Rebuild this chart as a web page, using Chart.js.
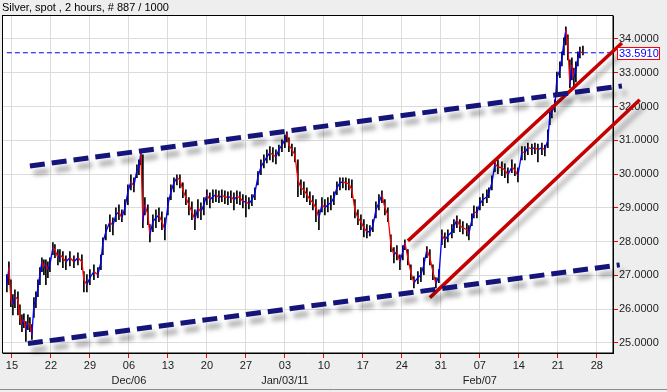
<!DOCTYPE html>
<html>
<head>
<meta charset="utf-8">
<script src="https://cdn.jsdelivr.net/npm/chart.js@4/dist/chart.umd.min.js"></script>
<style>
  body { margin: 0; background: #eeeeee; }
  canvas { display: block; }
</style>
</head>
<body>
<canvas id="silverChart" width="667" height="392"></canvas>
<script>
// days counted from Mon 15 Nov 2010
const days = [
    -0.90, -0.54, -0.18, 0.18, 0.54, 1.08, 1.44, 1.80, 2.15, 2.51,
    2.87, 3.23, 3.59, 3.95, 4.31, 4.67, 5.03, 5.39, 5.74, 6.10,
    6.46, 6.82, 7.36, 7.72, 8.26, 8.62, 9.15, 9.69, 10.41, 11.13,
    11.85, 12.56, 12.92, 13.46, 14.00, 14.72, 15.44, 15.98, 16.33, 16.87,
    17.59, 18.13, 18.67, 19.21, 19.74, 20.28, 20.82, 21.36, 21.90, 22.44,
    22.80, 23.15, 23.51, 23.87, 24.41, 24.77, 25.31, 25.85, 26.39, 26.92,
    27.46, 28.00, 28.54, 29.08, 29.62, 30.16, 30.69, 31.23, 31.77, 32.31,
    32.85, 33.39, 33.93, 34.46, 35.00, 35.54, 36.08, 36.62, 37.16, 37.69,
    38.23, 38.77, 39.31, 39.85, 40.39, 40.93, 41.46, 42.00, 42.54, 43.08,
    43.62, 44.16, 44.70, 45.23, 45.77, 46.31, 46.85, 47.39, 47.93, 48.47,
    49.00, 49.36, 49.72, 50.26, 50.80, 51.34, 51.88, 52.41, 52.95, 53.49,
    54.03, 54.57, 55.11, 55.65, 56.18, 56.72, 57.26, 57.80, 58.34, 58.88,
    59.41, 59.95, 60.49, 61.03, 61.57, 62.11, 62.65, 63.18, 63.72, 64.26,
    64.80, 65.34, 65.88, 66.42, 66.95, 67.49, 68.03, 68.57, 69.11, 69.65,
    70.18, 70.54, 71.08, 71.62, 72.16, 72.88, 73.42, 73.95, 74.49, 75.03,
    75.57, 76.11, 76.65, 77.19, 77.72, 78.26, 78.98, 79.34, 79.88, 80.42,
    80.95, 81.67, 82.03, 82.57, 82.93, 83.47, 84.01, 84.54, 85.26, 85.62,
    86.16, 86.70, 87.24, 87.96, 88.49, 89.03, 89.75, 90.29, 90.83, 91.55,
    92.08, 92.62, 93.34, 93.88, 94.42, 95.14, 95.67, 96.21, 96.57, 96.93,
    97.47, 97.83, 98.37, 98.73, 99.09, 99.44, 99.80, 100.16, 100.52, 100.88,
    101.24, 101.60, 101.96, 102.50
];
const closes = [
    26.72, 27.23, 26.28, 26.13, 26.37, 26.28, 25.75, 25.54, 25.69, 25.39,
    25.60, 25.54, 25.24, 26.13, 26.28, 26.63, 27.02, 27.40, 27.23, 27.31,
    27.17, 27.31, 27.82, 27.76, 27.52, 27.61, 27.52, 27.40, 27.52, 27.40,
    27.52, 27.40, 26.87, 26.72, 26.93, 27.11, 27.02, 27.40, 27.97, 28.29,
    28.59, 28.47, 28.79, 28.88, 28.70, 29.00, 29.47, 29.77, 29.65, 30.12,
    30.18, 30.66, 28.59, 29.09, 28.79, 28.20, 28.59, 28.70, 28.79, 28.59,
    28.35, 29.09, 29.47, 29.74, 29.89, 29.83, 29.53, 29.30, 29.09, 28.88,
    28.65, 29.00, 28.88, 29.09, 29.39, 29.24, 29.33, 29.39, 29.30, 29.36,
    29.33, 29.30, 29.33, 29.24, 29.33, 29.30, 29.18, 29.18, 29.12, 29.24,
    29.44, 29.92, 30.21, 30.36, 30.51, 30.63, 30.57, 30.51, 30.72, 30.86,
    31.01, 31.19, 30.86, 30.72, 30.57, 29.83, 29.59, 29.53, 29.39, 29.24,
    29.15, 29.00, 28.70, 29.09, 29.00, 29.09, 29.15, 29.30, 29.59, 29.74,
    29.77, 29.74, 29.71, 29.53, 28.94, 28.70, 28.59, 28.41, 28.29, 28.29,
    28.47, 28.94, 29.15, 29.39, 29.00, 28.79, 27.91, 27.61, 27.70, 27.40,
    27.70, 27.97, 27.52, 27.08, 26.78, 26.93, 27.02, 27.31, 27.76, 27.52,
    27.11, 26.75, 26.99, 28.20, 28.05, 28.17, 28.29, 28.44, 28.65, 28.47,
    28.41, 28.35, 28.23, 28.65, 28.88, 28.85, 29.12, 29.24, 29.33, 29.44,
    29.74, 30.30, 30.21, 30.18, 30.12, 29.98, 30.21, 30.12, 29.95, 30.66,
    30.63, 30.78, 30.75, 30.78, 30.72, 30.78, 30.72, 31.01, 31.75, 31.84,
    32.02, 32.85, 33.08, 33.44, 33.91, 34.27, 33.82, 32.64, 33.23, 32.85,
    33.08, 33.44, 33.62, 33.591
];
const highs = [
    27.02, 27.40, 26.87, 26.43, 26.57, 26.51, 26.13, 25.83, 25.86, 25.63,
    25.83, 25.75, 25.54, 26.34, 26.51, 26.87, 27.23, 27.52, 27.46, 27.46,
    27.40, 27.52, 27.97, 27.91, 27.76, 27.76, 27.70, 27.58, 27.70, 27.58,
    27.67, 27.61, 27.11, 27.02, 27.17, 27.31, 27.23, 27.61, 28.11, 28.50,
    28.79, 28.70, 29.00, 29.09, 28.94, 29.24, 29.68, 29.98, 29.89, 30.27,
    30.42, 30.72, 30.57, 29.30, 29.09, 28.50, 28.79, 28.94, 29.00, 28.88,
    28.70, 29.30, 29.68, 29.89, 29.98, 29.98, 29.74, 29.53, 29.30, 29.18,
    28.94, 29.24, 29.15, 29.30, 29.53, 29.44, 29.53, 29.53, 29.50, 29.53,
    29.50, 29.47, 29.50, 29.44, 29.50, 29.47, 29.39, 29.36, 29.30, 29.39,
    29.59, 30.07, 30.42, 30.57, 30.72, 30.81, 30.78, 30.72, 30.86, 31.01,
    31.16, 31.25, 31.07, 30.89, 30.78, 30.42, 29.83, 29.77, 29.59, 29.47,
    29.36, 29.24, 28.94, 29.30, 29.24, 29.30, 29.36, 29.47, 29.77, 29.89,
    29.89, 29.89, 29.86, 29.83, 29.24, 28.94, 28.79, 28.65, 28.50, 28.47,
    28.65, 29.18, 29.39, 29.50, 29.24, 29.00, 28.20, 27.82, 27.88, 27.61,
    27.88, 28.05, 27.76, 27.31, 26.96, 27.11, 27.23, 27.52, 27.85, 27.76,
    27.31, 26.93, 27.17, 28.35, 28.26, 28.35, 28.50, 28.65, 28.76, 28.65,
    28.59, 28.53, 28.47, 28.82, 29.06, 29.03, 29.30, 29.41, 29.53, 29.59,
    29.95, 30.42, 30.42, 30.36, 30.30, 30.18, 30.42, 30.30, 30.18, 30.81,
    30.81, 30.92, 30.89, 30.92, 30.89, 30.92, 30.86, 31.31, 31.90, 32.02,
    32.20, 33.02, 33.32, 33.62, 34.03, 34.36, 34.12, 33.38, 33.44, 33.14,
    33.32, 33.62, 33.76, 33.79
];
const lows = [
    26.51, 26.72, 26.07, 25.83, 26.04, 25.83, 25.54, 25.33, 25.45, 25.04,
    25.39, 25.33, 25.10, 25.75, 26.04, 26.37, 26.72, 27.11, 27.02, 26.72,
    26.93, 27.11, 27.61, 27.52, 27.31, 27.40, 27.23, 27.17, 27.28, 27.23,
    27.31, 27.17, 26.51, 26.51, 26.72, 26.87, 26.93, 27.17, 27.61, 28.05,
    28.29, 28.20, 28.59, 28.65, 28.59, 28.79, 29.09, 29.53, 29.47, 29.89,
    29.98, 30.27, 28.41, 28.79, 28.50, 27.99, 28.29, 28.41, 28.59, 28.35,
    28.05, 28.79, 29.24, 29.47, 29.68, 29.59, 29.30, 29.09, 28.79, 28.65,
    28.35, 28.70, 28.65, 28.79, 29.09, 29.00, 29.15, 29.18, 29.15, 29.18,
    29.12, 29.09, 29.15, 28.94, 29.12, 29.09, 29.00, 28.73, 28.97, 29.06,
    29.24, 29.68, 29.98, 30.18, 30.33, 30.42, 30.36, 30.30, 30.54, 30.66,
    30.78, 30.95, 30.66, 30.54, 30.36, 29.33, 29.39, 29.30, 29.18, 29.09,
    28.94, 28.59, 28.35, 28.88, 28.79, 28.88, 28.94, 29.09, 29.39, 29.53,
    29.59, 29.53, 29.53, 29.30, 28.70, 28.50, 28.35, 28.14, 28.11, 28.17,
    28.29, 28.70, 28.94, 29.15, 28.79, 28.59, 27.70, 27.37, 27.46, 27.17,
    27.46, 27.76, 27.31, 26.87, 26.63, 26.75, 26.81, 27.02, 27.52, 27.31,
    26.87, 26.63, 26.78, 27.91, 27.82, 27.99, 28.11, 28.26, 28.41, 28.29,
    28.23, 28.17, 28.05, 28.47, 28.70, 28.70, 28.94, 29.06, 29.15, 29.30,
    29.53, 30.07, 30.01, 29.95, 29.89, 29.74, 30.04, 29.95, 29.77, 30.42,
    30.42, 30.57, 30.57, 30.60, 30.36, 30.57, 30.54, 30.78, 31.46, 31.66,
    31.84, 32.34, 32.85, 33.20, 33.53, 33.82, 33.38, 32.55, 32.79, 32.55,
    32.73, 33.20, 33.44, 33.53
];

const lastPrice = 33.591;

// trend lines drawn on the chart: [start, end]
const navyUpperX = [3.23, 109.5];
const navyUpperY = [30.24, 32.61];
const navyLowerX = [2.87, 109.1];
const navyLowerY = [24.98, 27.31];
const redUpperX = [71.08, 109.5];
const redUpperY = [28.02, 33.88];
const redLowerX = [75.03, 112.7];
const redLowerY = [26.34, 32.20];

const tickDays = [0, 7, 14, 21, 28, 35, 42, 49, 56, 63, 70, 77, 84, 91, 98, 105];
const tickLabels = ['15', '22', '29', '06', '13', '20', '27', '03', '10', '17', '24', '31', '07', '14', '21', '28'];
const monthLabels = { 21: 'Dec/06', 49: 'Jan/03/11', 84: 'Feb/07' };
const priceTicks = [25, 26, 27, 28, 29, 30, 31, 32, 33, 34];

const xMin = -1.6, xMax = 107.9;
const yMin = 24.70, yMax = 34.68;

const FONT = "'Liberation Sans', Arial, sans-serif";

function toPoints(xs, ys) {
    return xs.map((x, i) => ({ x: x, y: ys[i] }));
}

const shadowPlugin = {
    id: 'lineShadow',
    beforeDatasetDraw(chart, args) {
        if (!chart.data.datasets[args.index].shadow) return;
        const ctx = chart.ctx;
        ctx.save();
        ctx.shadowColor = 'rgba(0, 0, 0, 0.35)';
        ctx.shadowBlur = 5;
        ctx.shadowOffsetX = 4;
        ctx.shadowOffsetY = 7;
    },
    afterDatasetDraw(chart, args) {
        if (chart.data.datasets[args.index].shadow) chart.ctx.restore();
    }
};

const framePlugin = {
    id: 'frame',
    beforeDraw(chart) {
        const ctx = chart.ctx;
        const a = chart.chartArea;
        ctx.save();
        ctx.fillStyle = '#eeeeee';
        ctx.fillRect(0, 0, chart.width, chart.height);
        ctx.fillStyle = '#ffffff';
        ctx.fillRect(a.left, a.top, a.right - a.left, a.bottom - a.top);
        ctx.strokeStyle = '#8c8c8c';
        ctx.beginPath();
        ctx.moveTo(0, chart.height - 2.5);
        ctx.lineTo(chart.width, chart.height - 2.5);
        ctx.stroke();
        ctx.fillStyle = '#000';
        ctx.font = '11px ' + FONT;
        ctx.textBaseline = 'middle';
        ctx.fillText('Silver, spot , 2 hours, # 887 / 1000', 2, 8);
        ctx.restore();
    },
    beforeDatasetsDraw(chart) {
        const ctx = chart.ctx;
        const a = chart.chartArea;
        ctx.save();
        ctx.strokeStyle = '#000';
        ctx.lineWidth = 1;
        ctx.strokeRect(a.left - 0.5, a.top - 0.5, a.right - a.left + 0.5, a.bottom - a.top + 0.5);
        ctx.restore();
    },
    afterDraw(chart) {
        const ctx = chart.ctx;
        const y = Math.round(chart.scales.y.getPixelForValue(lastPrice));
        ctx.save();
        ctx.fillStyle = '#ffffff';
        ctx.fillRect(617, y - 6, 43, 13);
        ctx.strokeStyle = '#ff0000';
        ctx.strokeRect(617.5, y - 5.5, 42, 12);
        ctx.fillStyle = '#0000ff';
        ctx.font = '11px ' + FONT;
        ctx.textBaseline = 'middle';
        ctx.fillText(lastPrice.toFixed(4), 619, y + 1);
        ctx.restore();
    }
};

const ctx = document.getElementById('silverChart').getContext('2d');

new Chart(ctx, {
    type: 'bar',
    data: {
        datasets: [
            {
                type: 'line', data: toPoints(navyUpperX, navyUpperY), shadow: true,
                borderColor: '#14147a', borderWidth: 5, borderDash: [15, 7],
                pointRadius: 0, clip: false, order: 0
            },
            {
                type: 'line', data: toPoints(navyLowerX, navyLowerY), shadow: true,
                borderColor: '#14147a', borderWidth: 5, borderDash: [15, 7],
                pointRadius: 0, clip: false, order: 0
            },
            {
                type: 'line', data: toPoints(redUpperX, redUpperY), shadow: true,
                borderColor: '#c40000', borderWidth: 3.5,
                pointRadius: 0, clip: false, order: 0
            },
            {
                type: 'line', data: toPoints(redLowerX, redLowerY), shadow: true,
                borderColor: '#c40000', borderWidth: 3.5,
                pointRadius: 0, clip: false, order: 0
            },
            {
                type: 'line', data: [{ x: days[0], y: lastPrice }, { x: xMax, y: lastPrice }],
                borderColor: '#0000ff', borderWidth: 1, borderDash: [5, 3],
                pointRadius: 0, order: 1
            },
            {
                type: 'line', data: toPoints(days, closes),
                borderWidth: 1.3, pointRadius: 0, tension: 0, order: 2,
                borderColor: '#0000ff',
                segment: {
                    borderColor: c => c.p1.parsed.y >= c.p0.parsed.y ? '#0000ff' : '#ff0000'
                }
            },
            {
                type: 'bar', data: days.map((d, i) => ({ x: d, y: [lows[i], highs[i]] })),
                backgroundColor: '#000000', borderWidth: 0, barThickness: 1, order: 3
            }
        ]
    },
    options: {
        responsive: false,
        animation: false,
        events: [],
        layout: { padding: { top: 16, left: 3, right: 0, bottom: 0 } },
        plugins: {
            legend: { display: false },
            tooltip: { enabled: false },
            title: { display: false }
        },
        scales: {
            x: {
                type: 'linear',
                min: xMin,
                max: xMax,
                offset: false,
                afterBuildTicks: s => { s.ticks = tickDays.map(v => ({ value: v })); },
                afterFit: s => { s.height = 39; },
                grid: { color: '#dcdcdc', tickColor: '#ff0000', tickLength: 5, offset: false },
                border: { color: '#000000' },
                ticks: {
                    autoSkip: false,
                    maxRotation: 0,
                    padding: 0,
                    color: '#222222',
                    font: { family: FONT, size: 11, lineHeight: 1.4 },
                    callback: v => {
                        const i = tickDays.indexOf(v);
                        return monthLabels[v] ? [tickLabels[i], monthLabels[v]] : tickLabels[i];
                    }
                }
            },
            y: {
                position: 'right',
                min: yMin,
                max: yMax,
                afterBuildTicks: s => { s.ticks = priceTicks.map(v => ({ value: v })); },
                afterFit: s => { s.width = 54; },
                grid: { color: '#dcdcdc', tickColor: '#ff0000', tickLength: 5 },
                border: { color: '#000000' },
                ticks: {
                    padding: 1,
                    color: '#222222',
                    font: { family: FONT, size: 11 },
                    callback: v => Number(v).toFixed(4)
                }
            }
        }
    },
    plugins: [shadowPlugin, framePlugin]
});
</script>
</body>
</html>
